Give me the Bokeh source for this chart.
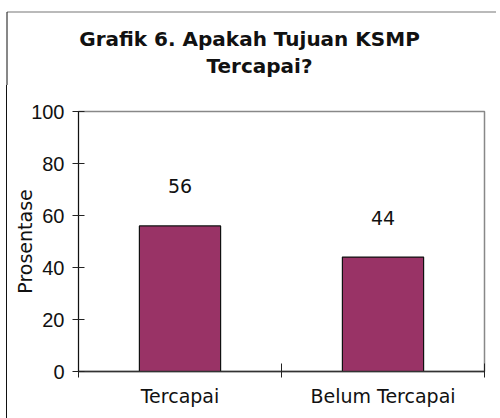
from bokeh.plotting import figure
from bokeh.layouts import column
from bokeh.models import Range1d, FixedTicker, ColumnDataSource
from bokeh.core.properties import value
from bokeh.embed import file_html
from bokeh.resources import INLINE

title_lines = ["Grafik 6. Apakah Tujuan KSMP", "Tercapai?"]
categories = ["Tercapai", "Belum Tercapai"]
values = [56, 44]
y_ticks = [0, 20, 40, 60, 80, 100]
y_label = "Prosentase"

FONT = "DejaVu Sans"
W = 496
TH = 85  # height of the title strip

# ---------- title strip (layout only, pixel coordinates) ----------
tf = figure(width=W, height=TH, output_backend="svg", toolbar_location=None,
            x_range=Range1d(0, W), y_range=Range1d(0, TH),
            x_axis_location=None, y_axis_location=None, min_border=0)
tf.frame_align = False
tf.xgrid.visible = False
tf.ygrid.visible = False
tf.outline_line_color = None
tf.background_fill_color = "white"
tf.border_fill_color = "white"
tf.text(x=[249, 259], y=[46.5, 20], text=title_lines, text_align="center",
        text_baseline="middle", text_font=value(FONT), text_font_size="20px",
        text_font_style="bold", text_color="#111")
# chart border: top edge and left edge in the title strip
tf.segment(x0=[6.5], y0=[TH - 11.5], x1=[W], y1=[TH - 11.5], line_color="#777777", line_width=1.2)
tf.segment(x0=[6.5], y0=[0], x1=[6.5], y1=[TH - 11.5], line_color="#111111", line_width=1)

# ---------- main bar chart ----------
xs = [i + 0.5 for i in range(len(categories))]
src = ColumnDataSource(dict(x=xs, top=values, lab=[str(v) for v in values]))

p = figure(width=W, height=418 - TH, output_backend="svg", toolbar_location=None,
           title=None, x_range=Range1d(0, len(categories)), y_range=Range1d(0, 100),
           min_border_left=78, min_border_right=12, min_border_top=26,
           min_border_bottom=47)
p.frame_align = False
# left edge of the chart border continues down behind a transparent canvas margin
p.styles = {"background-image": "linear-gradient(90deg, #ffffff 0px, #ffffff 6px, "
                                "#111111 6px, #111111 7px, #ffffff 7px)"}

p.vbar(x="x", top="top", width=0.4, source=src, fill_color="#993366",
       line_color="#111", line_width=1.2)
p.text(x="x", y="top", text="lab", source=src, y_offset=-39.5,
       text_align="center", text_baseline="middle",
       text_font=value(FONT), text_font_size="19px", text_color="#111")

p.xgrid.visible = False
p.ygrid.visible = False
p.outline_line_color = "#888888"
p.outline_line_width = 1.5
p.background_fill_color = "white"
p.border_fill_color = "white"
p.border_fill_alpha = 0

xa = p.xaxis[0]
xa.ticker = FixedTicker(ticks=xs, minor_ticks=list(range(len(categories) + 1)))
xa.major_label_overrides = {x: c for x, c in zip(xs, categories)}
xa.major_tick_line_color = None
xa.major_tick_in = 0
xa.major_tick_out = 0
xa.minor_tick_in = 8
xa.minor_tick_out = 6
xa.minor_tick_line_color = "#222"
xa.axis_line_color = "#333"
xa.axis_line_width = 1.5
xa.major_label_text_font = FONT
xa.major_label_text_font_size = "19px"
xa.major_label_text_color = "#111"
xa.major_label_standoff = 7

ya = p.yaxis[0]
ya.ticker = FixedTicker(ticks=y_ticks, minor_ticks=[])
ya.major_tick_in = 6
ya.major_tick_out = 6
ya.major_tick_line_color = "#222"
ya.axis_line_color = "#111"
ya.major_label_text_font = "Liberation Sans"
ya.major_label_text_font_size = "20px"
ya.major_label_text_color = "#111"
ya.major_label_standoff = 8
ya.axis_label = y_label
ya.axis_label_text_font = FONT
ya.axis_label_text_font_size = "19px"
ya.axis_label_text_font_style = "normal"
ya.axis_label_text_color = "#111"
ya.axis_label_standoff = -8

layout = column(tf, p, spacing=0)
open("out.html", "w").write(file_html(layout, INLINE))
